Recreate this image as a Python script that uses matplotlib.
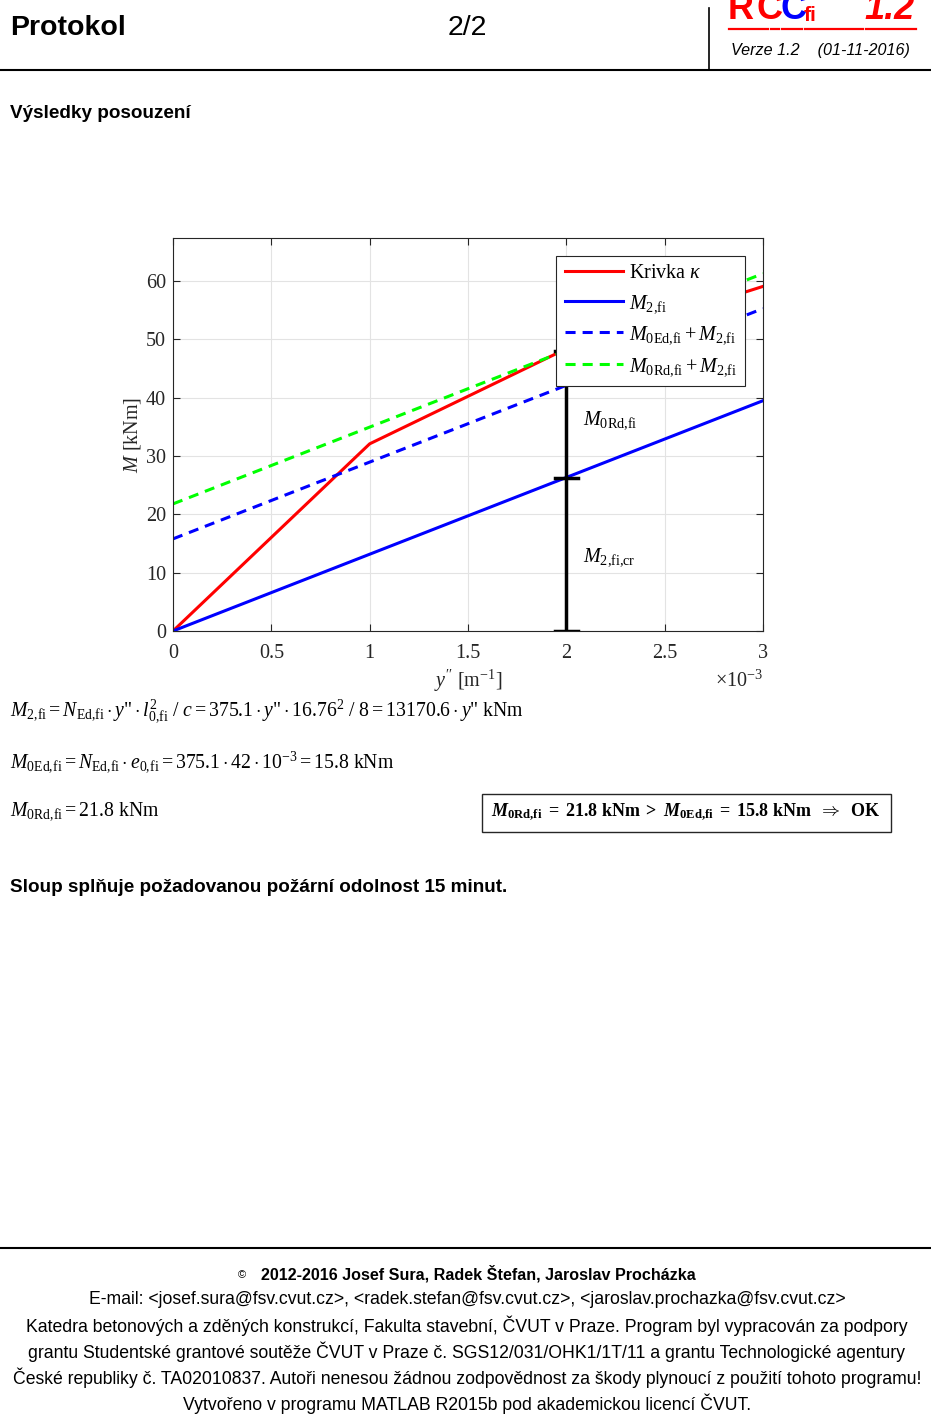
import numpy as np
import matplotlib
matplotlib.use("Agg")
import matplotlib.pyplot as plt
from matplotlib.ticker import FuncFormatter

plt.rcParams['font.family'] = ['Liberation Sans', 'DejaVu Sans']
plt.rcParams['mathtext.fontset'] = 'custom'
plt.rcParams['mathtext.rm'] = 'Liberation Serif'
plt.rcParams['mathtext.it'] = 'Liberation Serif:italic'
plt.rcParams['mathtext.bf'] = 'Liberation Serif:bold'
plt.rcParams['mathtext.bfit'] = 'Liberation Serif:bold:italic'

W, H = 931, 1418
SERIF = ['Liberation Serif', 'DejaVu Serif']

# data (y'' in 1/m, M in kNm)
curv_kappa = [0.0, 1.0e-3, 2.0e-3, 3.0e-3]
m_kappa = [0.0, 32.1, 48.4, 59.1]
curv_line = [0.0, 3.0e-3]
m_2fi = [0.0, 39.5]
m_0ed_2fi = [15.8, 55.3]
m_0rd_2fi = [21.8, 61.3]
curv_cr = 2.0e-3
m_bar = [0.0, 26.3, 48.1]
x_ticks = [0, 0.5e-3, 1e-3, 1.5e-3, 2e-3, 2.5e-3, 3e-3]
y_ticks = [0, 10, 20, 30, 40, 50, 60]

fig = plt.figure(figsize=(W / 100, H / 100), dpi=100)


def fx(px):
    return px / W


def fy(py):
    return 1 - py / H


def ptext(x, y, s, **kw):
    fig.text(fx(x), fy(y), s, **kw)


# header
ptext(10, 28, "Protokol", fontsize=20.5, fontweight='bold', va='center')
ptext(467, 28, "2/2", fontsize=20.5, ha='center', va='center')
fig.add_artist(plt.Line2D([0, 1], [fy(70), fy(70)], color='black', lw=1.5))
fig.add_artist(plt.Line2D([fx(709), fx(709)], [fy(8), fy(70)], color='black', lw=1.2))
# logo, cut by the top edge as in the page
ptext(728, 19, "R", fontsize=26, fontweight='bold', color='red', va='baseline')
ptext(756, 19, "C", fontsize=26, fontweight='bold', color='red', va='baseline')
ptext(780, 19, "C", fontsize=26, fontweight='bold', color='blue', va='baseline')
ptext(804, 21, "fi", fontsize=15, fontweight='bold', color='red', va='baseline')
ptext(915, 19, "1.2", fontsize=26, fontweight='bold', style='italic', color='red',
      ha='right', va='baseline')
for a, b in [(729, 768), (771, 779), (782, 802), (805, 863), (866, 916)]:
    fig.add_artist(plt.Line2D([fx(a), fx(b)], [fy(29), fy(29)], color='red', lw=1.6))
ptext(731, 50, "Verze 1.2    (01-11-2016)", fontsize=11.6, style='italic', va='center')

ptext(10, 114, "Výsledky posouzení", fontsize=13.6, fontweight='bold', va='center')

# chart
FS = 14.5
ax = fig.add_axes([fx(173), fy(631), fx(763) - fx(173), fy(238) - fy(631)])
ax.plot(curv_kappa, m_kappa, color='red', lw=2.2, label=r'Krivka $\kappa$')
ax.plot(curv_line, m_2fi, color='blue', lw=2.2, label=r'$M_{\mathrm{2{,}fi}}$')
ax.plot(curv_line, m_0ed_2fi, color='blue', lw=2.2, dashes=(3.3, 2.3),
        label=r'$M_{\mathrm{0Ed{,}fi}}+M_{\mathrm{2{,}fi}}$')
ax.plot(curv_line, m_0rd_2fi, color='#00ff00', lw=2.2, dashes=(3.3, 2.3),
        label=r'$M_{\mathrm{0Rd{,}fi}}+M_{\mathrm{2{,}fi}}$')
ax.plot([curv_cr, curv_cr], [m_bar[0], m_bar[-1]], color='black', lw=2.5, zorder=4)
for m in m_bar:
    ax.plot([curv_cr - 0.058e-3, curv_cr + 0.058e-3], [m, m], color='black', lw=2.5, zorder=4)
ax.text(2.085e-3, 36.2, r'$M_{\mathrm{0Rd{,}fi}}$', fontsize=FS, va='center')
ax.text(2.085e-3, 12.6, r'$M_{\mathrm{2{,}fi{,}cr}}$', fontsize=FS, va='center')

ax.set_xlim(0, 3e-3)
ax.set_ylim(0, 67.4)
ax.set_xticks(x_ticks)
ax.set_yticks(y_ticks)
ax.xaxis.set_major_formatter(FuncFormatter(lambda v, p: f"{v * 1e3:g}"))
ax.tick_params(direction='in', top=True, right=True, labelsize=FS,
               colors='#262626', length=5)
ax.tick_params(axis='x', pad=9)
ax.tick_params(axis='y', pad=5)
for lab in ax.get_xticklabels() + ax.get_yticklabels():
    lab.set_family(SERIF)
ax.grid(True, color='#e3e3e3', lw=0.8)
for s in ax.spines.values():
    s.set_color('#262626')
    s.set_linewidth(0.8)
ax.set_xlabel(r"$y''$ [m$^{\mathrm{-1}}$]", fontsize=FS, family=SERIF, color='#262626',
              labelpad=4)
ax.set_ylabel(r"$M$ [kNm]", fontsize=FS, family=SERIF, color='#262626', labelpad=2)
ax.text(1.0, -0.125, r"$\times\mathrm{10}^{\mathrm{-3}}$", transform=ax.transAxes,
        fontsize=FS, ha='right', va='center', color='#262626')
leg = ax.legend(loc='upper right', bbox_to_anchor=(0.9695, 0.954), borderaxespad=0,
                handlelength=2.9, fancybox=False, framealpha=1,
                edgecolor='#262626', prop={'family': SERIF, 'size': FS},
                labelspacing=0.48, handletextpad=0.3, borderpad=0.4)
leg.get_frame().set_linewidth(0.8)
leg.set_zorder(6)

# formulas
fs = 14.2
ypp = r'y\text{"}'
ptext(10, 711, r"$M_{\mathrm{2{,}fi}} = N_{\mathrm{Ed{,}fi}}\cdot " + ypp +
      r"\cdot l^{\mathrm{2}}_{\mathrm{0{,}fi}}\ /\ c = \mathrm{375.1}\cdot " + ypp +
      r"\cdot \mathrm{16.76}^{\mathrm{2}}\ /\ \mathrm{8} = \mathrm{13170.6}\cdot " + ypp +
      r"\ \mathrm{kNm}$", fontsize=fs, va='center')
ptext(10, 762, r"$M_{\mathrm{0Ed{,}fi}} = N_{\mathrm{Ed{,}fi}}\cdot e_{\mathrm{0{,}fi}} = "
      r"\mathrm{375.1}\cdot \mathrm{42}\cdot \mathrm{10}^{\mathrm{-3}} = \mathrm{15.8\ kNm}$",
      fontsize=fs, va='center')
ptext(10, 811, r"$M_{\mathrm{0Rd{,}fi}} = \mathrm{21.8\ kNm}$", fontsize=fs, va='center')
fig.add_artist(plt.Rectangle((fx(482), fy(832)), fx(891) - fx(482), fy(794) - fy(832),
                             fill=False, edgecolor='#262626', lw=1.0))
ptext(686, 812, r"$\mathbfit{M}_{\mathbf{0Rd{,}fi}}\mathbf{\ =\ 21.8\ kNm\ >\ }"
      r"\mathbfit{M}_{\mathbf{0Ed{,}fi}}\mathbf{\ =\ 15.8\ kNm}\ \ \Rightarrow\ \ \mathbf{OK}$",
      fontsize=13.0, ha='center', va='center')

ptext(10, 888, "Sloup splňuje požadovanou požární odolnost 15 minut.", fontsize=13.6,
      fontweight='bold', va='center')

# footer
fig.add_artist(plt.Line2D([0, 1], [fy(1248), fy(1248)], color='black', lw=1.5))
ptext(242, 1275, "©", fontsize=8, ha='center', va='center')
ptext(478, 1274, "2012-2016 Josef Sura, Radek Štefan, Jaroslav Procházka", fontsize=11.6,
      fontweight='bold', ha='center', va='center')
footer = [
    "E-mail: <josef.sura@fsv.cvut.cz>, <radek.stefan@fsv.cvut.cz>, <jaroslav.prochazka@fsv.cvut.cz>",
    "Katedra betonových a zděných konstrukcí, Fakulta stavební, ČVUT v Praze. Program byl vypracován za podpory",
    "grantu Studentské grantové soutěže ČVUT v Praze č. SGS12/031/OHK1/1T/11 a grantu Technologické agentury",
    "České republiky č. TA02010837. Autoři nenesou žádnou zodpovědnost za škody plynoucí z použití tohoto programu!",
    "Vytvořeno v programu MATLAB R2015b pod akademickou licencí ČVUT.",
]
for i, line in enumerate(footer):
    ptext(467, 1300 + 26 * i, line, fontsize=12.7, ha='center', va='center')

fig.savefig("out.png", dpi=100)
